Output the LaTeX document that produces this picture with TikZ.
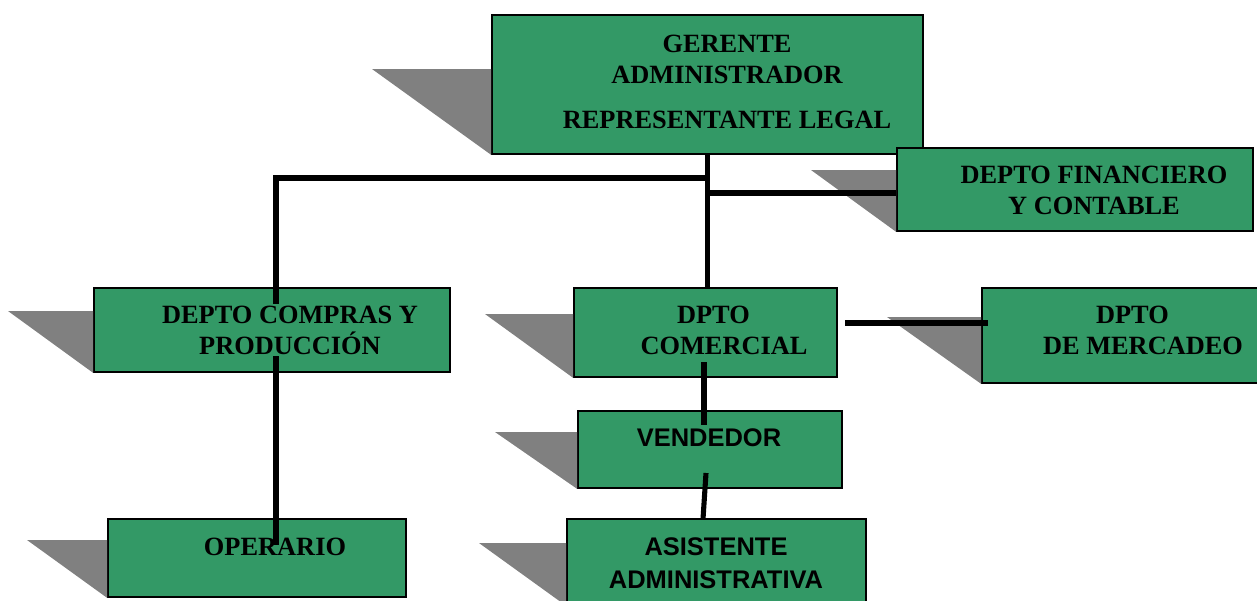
\documentclass[tikz,border=0pt]{standalone}
\usepackage{fontspec}
\setmainfont{Liberation Serif}
\newfontfamily\arialfont{Liberation Sans}

\definecolor{boxgreen}{RGB}{51,153,102}
\definecolor{shadowgray}{RGB}{128,128,128}

\tikzset{
  orgbox/.style={draw=black, line width=1pt, fill=boxgreen, inner sep=0pt},
  shadowtri/.style={fill=shadowgray},
  conn/.style={line width=2.9pt},
  lbl/.style={font=\fontsize{15}{17.6}\selectfont\bfseries, align=center, inner sep=1pt},
  lblsans/.style={font=\arialfont\fontsize{14.5}{19}\selectfont\bfseries, align=center, inner sep=1pt}
}

\begin{document}
\begin{tikzpicture}[x=0.02cm, y=-0.02cm]
    \clip (0,0) rectangle (1257,600);
    % boxes
    \node[orgbox, minimum width=8.62cm, minimum height=2.78cm] (gerente) at (707.5,84.5) {};
    \node[orgbox, minimum width=7.12cm, minimum height=1.66cm] (finan) at (1075,189.5) {};
    \node[orgbox, minimum width=7.12cm, minimum height=1.68cm] (compras) at (272,330) {};
    \node[orgbox, minimum width=5.26cm, minimum height=1.78cm] (comercial) at (705.5,332.5) {};
    \node[orgbox, minimum width=5.66cm, minimum height=1.9cm] (mercadeo) at (1123.5,335.5) {};
    \node[orgbox, minimum width=5.28cm, minimum height=1.54cm] (vendedor) at (710,449.5) {};
    \node[orgbox, minimum width=5.96cm, minimum height=1.56cm] (operario) at (257,558) {};
    \node[orgbox, minimum width=5.98cm, minimum height=1.72cm] (asistente) at (716.5,562) {};

    % shadows
    \foreach \n/\sx/\sy in {gerente/372/69, finan/811/170, compras/8/311, comercial/485/314,
                            mercadeo/887/317, vendedor/495/432, operario/27/540, asistente/479/543}
        \fill[shadowtri] (\sx,\sy) -| (\n.south west) -- cycle;

    % connectors
    \coordinate (split) at (707,178);
    \coordinate (opend) at (276,545);
    \coordinate (fsplit) at (707,193);
    \coordinate (mkt1) at (845,323);
    \coordinate (mkt2) at (988,323);
    \coordinate (cv1) at (704,362);
    \coordinate (cv2) at (704,425);
    \coordinate (va1) at (706,473);
    \coordinate (va2) at (703,519);
    \draw[conn] (gerente.south) -- (gerente.south |- comercial.north);
    \draw[conn] (split) -| (opend);
    \draw[conn] (fsplit) -- (fsplit -| finan.west);
    \draw[conn] (mkt1) -- (mkt2);
    \draw[conn] (cv1) -- (cv2);
    \draw[conn] (va1) -- (va2);

    % labels
    \node[lbl] (tgerente) at (727,82) {GERENTE\\ADMINISTRADOR\\[8pt]REPRESENTANTE LEGAL};
    \node[lbl] (tfinan) at (1094,190) {DEPTO FINANCIERO\\Y CONTABLE};
    \node[lbl, fill=boxgreen] (tcompras) at (290,330) {DEPTO COMPRAS Y\\PRODUCCIÓN};
    \node[lbl] (tcomercial) at (724,330) {\hspace*{-0.8em}DPTO\\COMERCIAL};
    \node[lbl] (tmercadeo) at (1143,330) {\hspace*{-0.8em}DPTO\\DE MERCADEO};
    \node[lblsans] (tvendedor) at (709,438) {VENDEDOR};
    \node[lbl] (toperario) at (275,547) {OPERARIO};
    \node[lblsans] (tasistente) at (716,563) {ASISTENTE\\ADMINISTRATIVA};
\end{tikzpicture}
\end{document}
